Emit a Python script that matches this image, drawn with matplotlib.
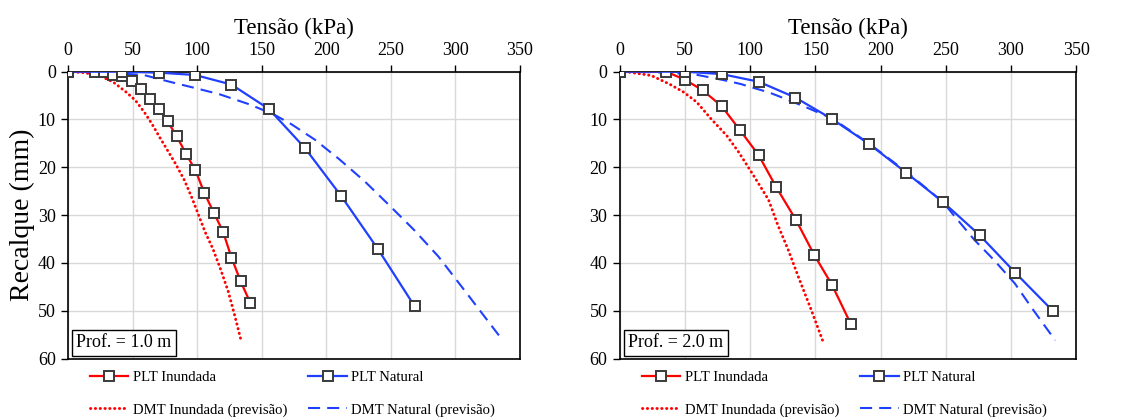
import matplotlib
matplotlib.use("Agg")
import matplotlib.pyplot as plt

plt.rcParams["font.family"] = ["Liberation Serif", "DejaVu Serif"]

# ---- Prof. = 1.0 m ----
plt1_inund_x = [0, 21, 27.5, 35, 42, 49.5, 56, 63, 70.5, 77, 84, 91.5, 98.5, 105.5, 112.8, 120, 126.5, 133.5, 141]
plt1_inund_y = [0, 0, 0, 0.6, 1.0, 1.9, 3.6, 5.7, 7.9, 10.4, 13.5, 17.3, 20.6, 25.4, 29.5, 33.5, 38.9, 43.8, 48.3]
plt1_nat_x = [0, 42, 70.5, 98.5, 126.5, 155.5, 183.5, 211.5, 240, 268.5]
plt1_nat_y = [0, 0, 0.2, 0.7, 2.7, 7.8, 16.0, 26.0, 37.1, 49.1]
dmt1_inund_x = [0, 12, 24, 35, 45, 52, 59, 65, 71, 77, 83, 90, 96, 101, 106, 112, 118, 124, 129, 134]
dmt1_inund_y = [0, 0.2, 0.8, 2.2, 4.3, 6.0, 8.5, 11.0, 13.8, 16.5, 19.2, 22.7, 26.5, 30.0, 33.5, 37.0, 41.3, 46.0, 51.0, 56.3]
dmt1_nat_x = [0, 30, 58.6, 77, 98, 117, 140, 159, 173, 191, 210, 230, 249, 268, 287, 305, 322, 337]
dmt1_nat_y = [0, 0.2, 0.7, 2.0, 3.4, 4.7, 6.8, 8.9, 11.0, 14.2, 18.3, 23.0, 28.0, 33.1, 38.7, 45.0, 51.0, 56.3]

# ---- Prof. = 2.0 m ----
plt2_inund_x = [0, 35.5, 50, 63.5, 78, 92, 106.5, 120, 135, 149, 162.7, 177]
plt2_inund_y = [0, 0, 1.7, 3.9, 7.2, 12.2, 17.5, 24.2, 31.0, 38.3, 44.6, 52.7]
plt2_nat_x = [0, 50, 78, 106.5, 134.5, 162.7, 191, 219.5, 248, 276, 303.5, 332]
plt2_nat_y = [0, 0, 0.5, 2.1, 5.4, 9.9, 15.1, 21.1, 27.3, 34.2, 42.1, 50.0]
dmt2_inund_x = [0, 7, 24, 38, 49, 59, 70, 82, 91, 102, 114, 121, 129, 137, 147, 156]
dmt2_inund_y = [0, 0.1, 0.8, 2.6, 4.3, 6.4, 9.9, 13.4, 16.8, 21.5, 26.8, 32.0, 37.2, 43.0, 50.0, 56.6]
dmt2_nat_x = [0, 25, 56, 73, 82, 93, 100, 114, 130, 145, 163, 191, 220, 248, 256, 272, 287, 303, 317, 334]
dmt2_nat_y = [0, 0.1, 0.5, 1.4, 1.9, 2.6, 3.2, 4.3, 6.0, 7.7, 9.8, 15.0, 21.0, 27.3, 30.0, 35.2, 39.4, 44.3, 49.8, 56.2]

x_ticks = [0, 50, 100, 150, 200, 250, 300, 350]
y_ticks = [0, 10, 20, 30, 40, 50, 60]
labels = ["PLT Inundada", "PLT Natural", "DMT Inundada (previsão)", "DMT Natural (previsão)"]

RED = "#ff0000"
BLUE = "#1f40ff"


def panel(ax, pi, pn, di, dn, prof, ylabel):
    mk = dict(marker="s", markersize=7.6, markerfacecolor="white",
              markeredgecolor="#3a3a3a", markeredgewidth=1.4)
    l1, = ax.plot(*pi, color=RED, lw=1.6, zorder=4, **mk)
    l2, = ax.plot(*pn, color=BLUE, lw=1.6, zorder=4, **mk)
    l3, = ax.plot(*di, color=RED, lw=2.1, linestyle=(0, (0.1, 1.55)),
                  dash_capstyle="round", zorder=3)
    l4, = ax.plot(*dn, color=BLUE, lw=1.5, linestyle=(0, (5.8, 3.4)), zorder=3)

    ax.set_xlim(0, 350)
    ax.set_ylim(60, 0)
    ax.set_xticks(x_ticks)
    ax.set_yticks(y_ticks)
    ax.xaxis.tick_top()
    ax.xaxis.set_label_position("top")
    ax.tick_params(labelsize=13, direction="out", length=5, width=1, pad=4)
    ax.set_xlabel("Tensão (kPa)", fontsize=16.5, labelpad=6)
    if ylabel:
        ax.set_ylabel("Recalque (mm)", fontsize=20, labelpad=2)
    ax.grid(color="#d9d9d9", lw=1)
    ax.set_axisbelow(True)
    for s in ax.spines.values():
        s.set_color("black")
        s.set_linewidth(1.2)

    ax.text(0.018, 0.025, prof, transform=ax.transAxes, fontsize=13,
            ha="left", va="bottom", zorder=6,
            bbox=dict(boxstyle="square,pad=0.25", facecolor="white",
                      edgecolor="black", linewidth=1.0))

    # legend fills column-wise: order so rows read PLT / DMT
    ax.legend([l1, l3, l2, l4], [labels[0], labels[2], labels[1], labels[3]],
              ncol=2, loc="upper left",
              bbox_to_anchor=(0.035, -0.022), frameon=False, fontsize=10.6,
              handlelength=2.6, handletextpad=0.3, labelspacing=1.3,
              columnspacing=1.45, borderaxespad=0)


fig = plt.figure(figsize=(11.46, 4.18), dpi=100)
ax1 = fig.add_axes([0.0596, 0.1423, 0.394, 0.6862])
ax2 = fig.add_axes([0.541, 0.1423, 0.398, 0.6862])

panel(ax1, (plt1_inund_x, plt1_inund_y), (plt1_nat_x, plt1_nat_y),
      (dmt1_inund_x, dmt1_inund_y), (dmt1_nat_x, dmt1_nat_y),
      "Prof. = 1.0 m", True)
panel(ax2, (plt2_inund_x, plt2_inund_y), (plt2_nat_x, plt2_nat_y),
      (dmt2_inund_x, dmt2_inund_y), (dmt2_nat_x, dmt2_nat_y),
      "Prof. = 2.0 m", False)

fig.savefig("out.png", dpi=100)
